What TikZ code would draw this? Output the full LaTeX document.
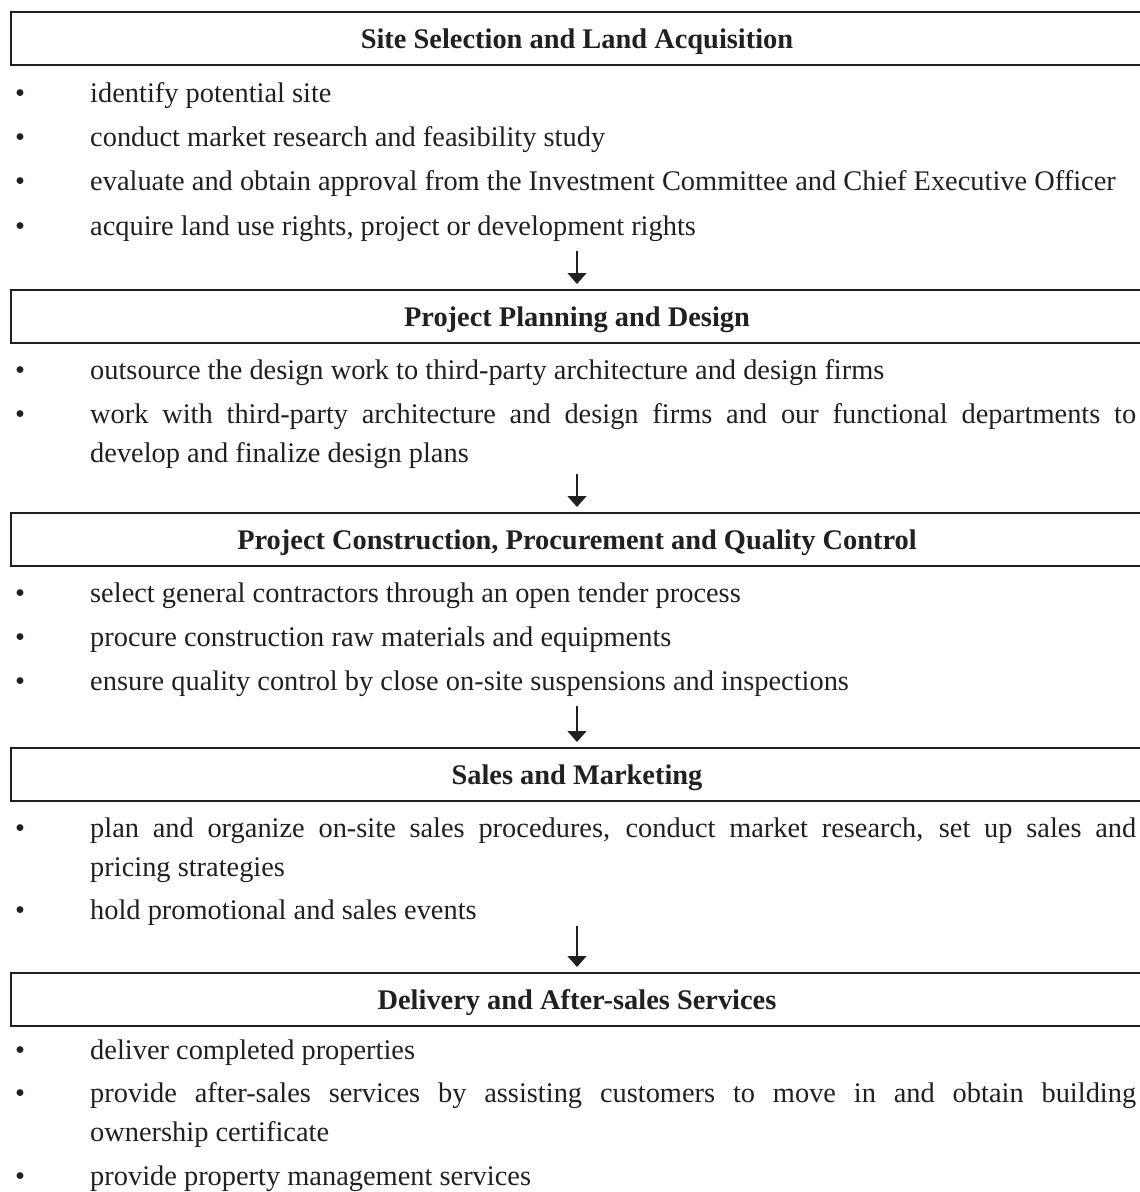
\documentclass[tikz,border=0pt]{standalone}
\usepackage{fontspec}
\setmainfont{Liberation Serif}
\usetikzlibrary{arrows.meta}
\definecolor{ink}{HTML}{231F20}
\begin{document}
\begin{tikzpicture}[x=1pt,y=-1pt,
  stagebox/.style={draw=ink, line width=1.5pt, minimum width=1132pt, minimum height=53pt, inner sep=0pt, anchor=north},
  stagetitle/.style={anchor=base, inner sep=0pt, text=ink, font=\fontsize{28.4}{34}\selectfont\bfseries},
  bulletmark/.style={anchor=base, inner sep=0pt, text=ink, font=\fontsize{28.4}{39}\selectfont},
  itemtext/.style={anchor=base west, inner sep=0pt, text=ink, text width=1046pt, align=justify, font=\fontsize{28.4}{39}\selectfont},
  flow/.style={draw=ink, line width=1.5pt, -{Triangle[width=19pt,length=11pt]}, shorten >=5pt},
]
\useasboundingbox (0,0) rectangle (1140,1192);
\clip (0,0) rectangle (1140,1192);

% ---- Stage 1
\node[stagebox] (b1) at (577,11) {};
\node[stagetitle] (t1) at (577,48) {Site Selection and Land Acquisition};
\node[bulletmark] (d11) at (20,102) {•};
\node[itemtext] (i11) at (90,102) {identify potential site};
\node[bulletmark] (d12) at (20,146) {•};
\node[itemtext] (i12) at (90,146) {conduct market research and feasibility study};
\node[bulletmark] (d13) at (20,190) {•};
\node[itemtext] (i13) at (90,190) {evaluate and obtain approval from the Investment Committee and Chief Executive Officer};
\node[bulletmark] (d14) at (20,235) {•};
\node[itemtext] (i14) at (90,235) {acquire land use rights, project or development rights};

% ---- Stage 2
\node[stagebox] (b2) at (577,289) {};
\node[stagetitle] (t2) at (577,326) {Project Planning and Design};
\node[bulletmark] (d21) at (20,379) {•};
\node[itemtext] (i21) at (90,379) {outsource the design work to third-party architecture and design firms};
\node[bulletmark] (d22) at (20,423) {•};
\node[itemtext] (i22) at (90,423) {work with third-party architecture and design firms and our functional departments to\linebreak develop and finalize design plans};

% ---- Stage 3
\node[stagebox] (b3) at (577,512) {};
\node[stagetitle] (t3) at (577,549) {Project Construction, Procurement and Quality Control};
\node[bulletmark] (d31) at (20,602) {•};
\node[itemtext] (i31) at (90,602) {select general contractors through an open tender process};
\node[bulletmark] (d32) at (20,646) {•};
\node[itemtext] (i32) at (90,646) {procure construction raw materials and equipments};
\node[bulletmark] (d33) at (20,690) {•};
\node[itemtext] (i33) at (90,690) {ensure quality control by close on-site suspensions and inspections};

% ---- Stage 4
\node[stagebox] (b4) at (577,747) {};
\node[stagetitle] (t4) at (577,784) {Sales and Marketing};
\node[bulletmark] (d41) at (20,837) {•};
\node[itemtext] (i41) at (90,837) {plan and organize on-site sales procedures, conduct market research, set up sales and\linebreak pricing strategies};
\node[bulletmark] (d42) at (20,919) {•};
\node[itemtext] (i42) at (90,919) {hold promotional and sales events};

% ---- Stage 5
\node[stagebox] (b5) at (577,972) {};
\node[stagetitle] (t5) at (577,1009) {Delivery and After-sales Services};
\node[bulletmark] (d51) at (20,1059) {•};
\node[itemtext] (i51) at (90,1059) {deliver completed properties};
\node[bulletmark] (d52) at (20,1102) {•};
\node[itemtext] (i52) at (90,1102) {provide after-sales services by assisting customers to move in and obtain building\linebreak ownership certificate};
\node[bulletmark] (d53) at (20,1185) {•};
\node[itemtext] (i53) at (90,1185) {provide property management services};

% ---- Arrows
\coordinate (a1) at (577,251);
\coordinate (a2) at (577,474);
\coordinate (a3) at (577,706);
\coordinate (a4) at (577,926);
\draw[flow] (a1) -- (b2.north);
\draw[flow] (a2) -- (b3.north);
\draw[flow] (a3) -- (b4.north);
\draw[flow] (a4) -- (b5.north);
\end{tikzpicture}
\end{document}
